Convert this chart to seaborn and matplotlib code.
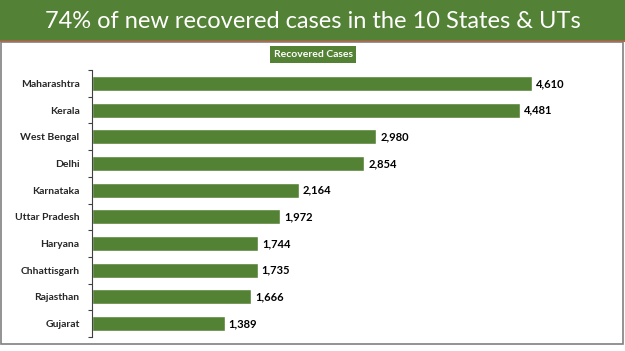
import matplotlib
matplotlib.use("Agg")
import matplotlib.pyplot as plt
import seaborn as sns
import pandas as pd
from matplotlib.patches import Rectangle

estados = ["Maharashtra", "Kerala", "West Bengal", "Delhi", "Karnataka",
           "Uttar Pradesh", "Haryana", "Chhattisgarh", "Rajasthan", "Gujarat"]
recuperados = [4610, 4481, 2980, 2854, 2164, 1972, 1744, 1735, 1666, 1389]

titulo = "74% of new recovered cases in the 10 States & UTs"
legenda = "Recovered Cases"

verde = "#548235"

df = pd.DataFrame({"Estado": estados, "Recuperados": recuperados})

sns.set_style("white")
plt.rcParams["font.family"] = ["Lato", "DejaVu Sans"]

W, H = 625, 351
fig = plt.figure(figsize=(W / 100, H / 100), dpi=100)

# cabecalho verde + linha laranja
fig.patches.append(Rectangle((0, 1 - 40 / H), 1, 40 / H, transform=fig.transFigure,
                             facecolor="#538135", edgecolor="none", zorder=0))
fig.patches.append(Rectangle((0, 1 - 42 / H), 1, 2 / H, transform=fig.transFigure,
                             facecolor="#B4612A", edgecolor="none", zorder=0))
# moldura cinzenta
fig.patches.append(Rectangle((1 / W, 7 / H), 622 / W, (H - 49) / H, transform=fig.transFigure,
                             facecolor="none", edgecolor="#808080", linewidth=1.2, zorder=0))

fig.text(0.5, 1 - 21 / H, titulo, ha="center", va="center", color="white",
         fontsize=17, family=["Lato", "DejaVu Sans"])

ax = fig.add_axes([92 / W, 14 / H, (600 - 92) / W, 267 / H])
sns.barplot(data=df, x="Recuperados", y="Estado", color=verde, width=0.56,
            saturation=1, ax=ax)
ax.set_xlim(0, (600 - 92) / ((532 - 92) / 4610))
ax.set_ylim(9.5, -0.5)
ax.set_xlabel("")
ax.set_ylabel("")
ax.set_xticks([])
ax.set_yticks([i - 0.5 for i in range(11)], minor=False)
ax.set_yticklabels([])
ax.set_yticks(range(10), minor=True)
ax.set_yticklabels(estados, minor=True, fontsize=7.5, fontweight="bold")
ax.tick_params(axis="y", which="major", length=3, width=0.8, color="#404040", left=True)
ax.tick_params(axis="y", which="minor", length=0, pad=9)
for s in ["top", "right", "bottom"]:
    ax.spines[s].set_visible(False)
ax.spines["left"].set_color("#404040")
ax.spines["left"].set_linewidth(0.8)

for i, v in enumerate(recuperados):
    ax.text(v + 40, i, f"{v:,}", va="center", ha="left", fontsize=8,
            fontweight="bold", color="black")

fig.text(313 / W, 1 - 54.5 / H, legenda, ha="center", va="center", color="white",
         fontsize=7.5, fontweight="bold",
         bbox=dict(boxstyle="square,pad=0.35", facecolor=verde, edgecolor="none"))

fig.savefig("out.png", dpi=100)
